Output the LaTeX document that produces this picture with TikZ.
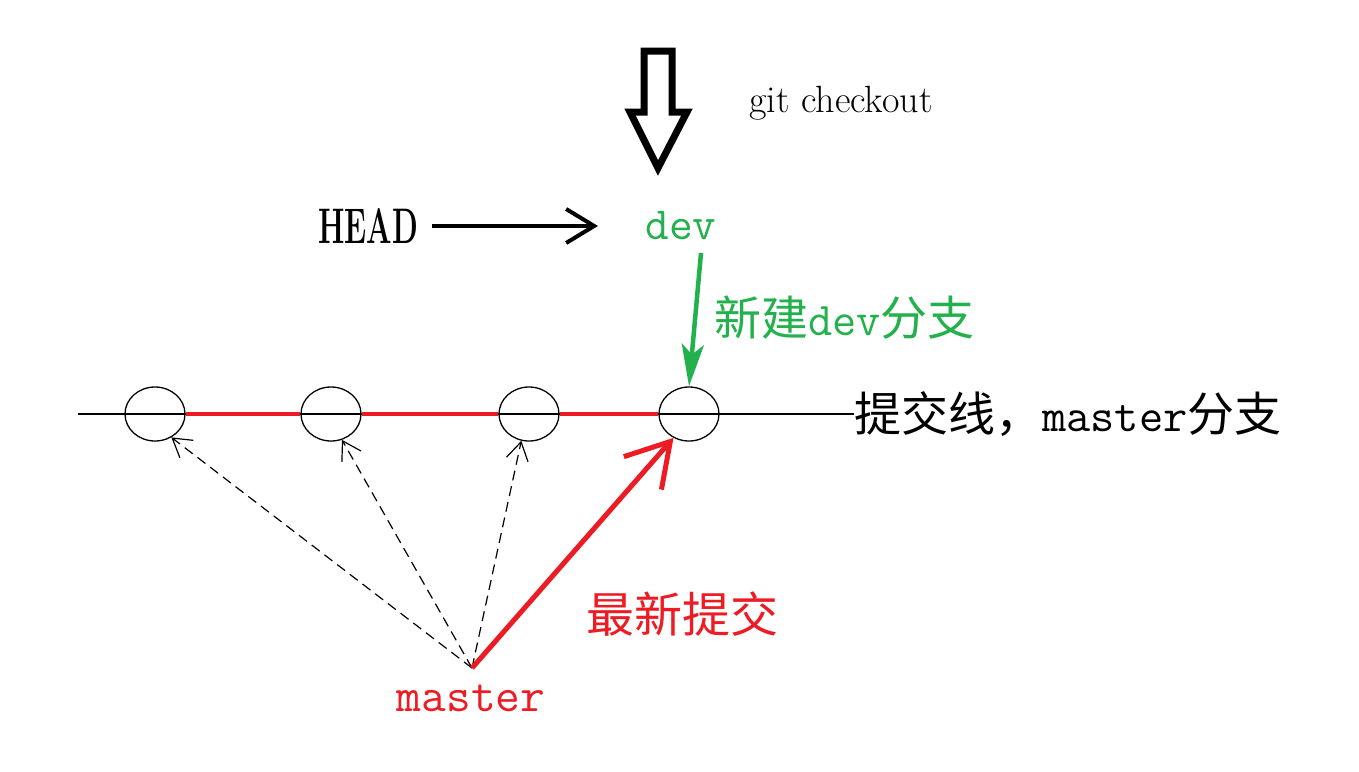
\documentclass[tikz,border=0pt]{standalone}
\usepackage{fontspec}
\usepackage{graphicx}
\newfontfamily\cjk{Noto Sans CJK SC}
\usetikzlibrary{arrows.meta,shapes.geometric}
\definecolor{pgreen}{RGB}{34,177,76}
\definecolor{pred}{RGB}{237,28,36}
\tikzset{
  commit/.style={draw=black,ellipse,line width=1.3pt,minimum width=60pt,minimum height=54pt,inner sep=0pt},
  redseg/.style={draw=pred,line width=4pt},
  dasharrow/.style={draw=black,line width=1.2pt,dash pattern=on 10pt off 6pt,-{Straight Barb[length=18pt,width=22pt,line width=1.2pt]}},
  bigtxt/.style={inner sep=0pt,font=\fontsize{47}{52}\selectfont},
}
\begin{document}
\begin{tikzpicture}[x=1pt,y=-1pt]
\useasboundingbox[fill=white] (0,0) rectangle (1359,771);
% hollow arrow
\draw[line width=7pt,line join=miter] (644,51) -- (672,51) -- (672,112) -- (687,112) -- (658,168) -- (630,112) -- (644,112) -- cycle;
\node[inner sep=0pt,font=\fontsize{38}{44}\selectfont] (gc) at (841,103) {git checkout};
% head and dev
\node[inner sep=0pt,font=\fontsize{50}{56}\selectfont\bfseries] (head) at (368,226) {\scalebox{0.6}[1]{HEAD}};
\node[bigtxt,text=pgreen,font=\fontsize{46}{52}\selectfont\ttfamily] (dev) at (681,226) {dev};
\draw[line width=4pt,-{Straight Barb[length=28pt,width=34pt,line width=4pt]}] (head.east)+(14,0) -- (598,226);
% baseline
\coordinate (L) at (78,414);
\node[commit] (c1) at (155,414) {};
\node[commit] (c2) at (331,414) {};
\node[commit] (c3) at (529,414) {};
\node[commit] (c4) at (689,414) {};
\node[bigtxt,anchor=west] (line) at (854,414) {\cjk 提交线，\ttfamily master\cjk 分支};
\draw[line width=1.3pt] (L) -- (line.west);
\draw[redseg] (c1.east) -- (c2.west);
\draw[redseg] (c2.east) -- (c3.west);
\draw[redseg] (c3.east) -- (c4.west);
% green arrow
\coordinate (gs) at (701,253);
\draw[draw=pgreen,line width=4.5pt,-{Stealth[length=42pt,width=22pt,inset=10pt]}] (gs) -- (c4.north);
\node[bigtxt,text=pgreen,anchor=west] (newdev) at (714,318) {\cjk 新建\ttfamily dev\cjk 分支};
% master
\node[bigtxt,text=pred,font=\fontsize{48}{52}\selectfont\ttfamily] (master) at (471,698) {master};
\coordinate (mt) at (472,668);
\draw[dasharrow] (mt) -- (c1.-55);
\draw[dasharrow] (mt) -- (c2.-67);
\draw[dasharrow] (mt) -- (c3.-106);
\draw[draw=pred,line width=5pt,-{Straight Barb[length=42pt,width=50pt,line width=5pt]}] (mt) -- (c4.-123);
\node[bigtxt,text=pred,font=\fontsize{48}{52}\selectfont] (newest) at (682,614) {\cjk 最新提交};
\end{tikzpicture}
\end{document}
